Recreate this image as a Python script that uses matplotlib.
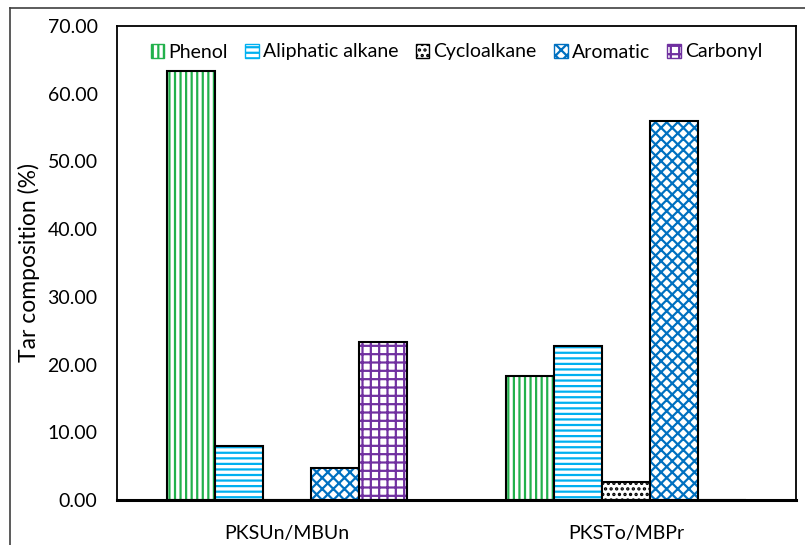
import matplotlib.pyplot as plt
import numpy as np
from matplotlib.lines import Line2D
from matplotlib.patches import Patch

plt.rcParams['font.family'] = ['Lato', 'DejaVu Sans']
plt.rcParams['hatch.linewidth'] = 1.6

# data
grupos = ['PKSUn/MBUn', 'PKSTo/MBPr']
series = ['Phenol', 'Aliphatic alkane', 'Cycloalkane', 'Aromatic', 'Carbonyl']
phenol = [63.4, 18.3]
aliphatic = [8.0, 22.7]
cycloalkane = [0.0, 2.6]
aromatic = [4.7, 56.0]
carbonyl = [23.4, 0.0]
valores = [phenol, aliphatic, cycloalkane, aromatic, carbonyl]

# estilos
cores = ['#22B14C', '#00B0F0', '#000000', '#0070C0', '#7030A0']
hatches = ['|||', '---', '...', 'xxx', '++']

fig = plt.figure(figsize=(8.05, 5.45), dpi=100)
ax = fig.add_axes([117/805, 1-500/545, 679/805, 474/545])

x = np.arange(len(grupos))
w = 0.1414
handles = []
for i, (nome, vals) in enumerate(zip(series, valores)):
    pos = x + (i - 2) * w
    ax.bar(pos, vals, w, color='white', edgecolor=cores[i], hatch=hatches[i], linewidth=0)
    ax.bar(pos, vals, w, color='none', edgecolor='black', linewidth=1.5)
    handles.append(Patch(facecolor='white', edgecolor=cores[i], hatch=hatches[i], linewidth=1))

ax.set_xlim(-0.5, 1.5)
ax.set_ylim(0, 70)
ax.set_yticks(np.arange(0, 71, 10))
ax.set_yticklabels(['%.2f' % v for v in np.arange(0, 71, 10)], fontsize=14)
ax.set_xticks(x)
ax.set_xticklabels(grupos, fontsize=14)
ax.tick_params(axis='both', length=0)
ax.tick_params(axis='y', pad=14)
ax.tick_params(axis='x', pad=18)
ax.set_ylabel('Tar composition (%)', fontsize=16.5, labelpad=5)
for s in ax.spines.values():
    s.set_linewidth(1.3)
ax.spines['bottom'].set_linewidth(2.2)

ax.legend(handles, series, loc='upper center', bbox_to_anchor=(0.5, 1.0), ncol=5, frameon=False,
          fontsize=14, handlelength=0.7, handleheight=0.7, handletextpad=0.2, columnspacing=0.9,
          borderaxespad=0.5)

# moldura externa
fig.add_artist(Line2D([10/805, 10/805], [0, 1-8/545], color='#404040', lw=1.2))
fig.add_artist(Line2D([10/805, 1], [1-8/545, 1-8/545], color='#404040', lw=1.2))

plt.savefig('out.png')
